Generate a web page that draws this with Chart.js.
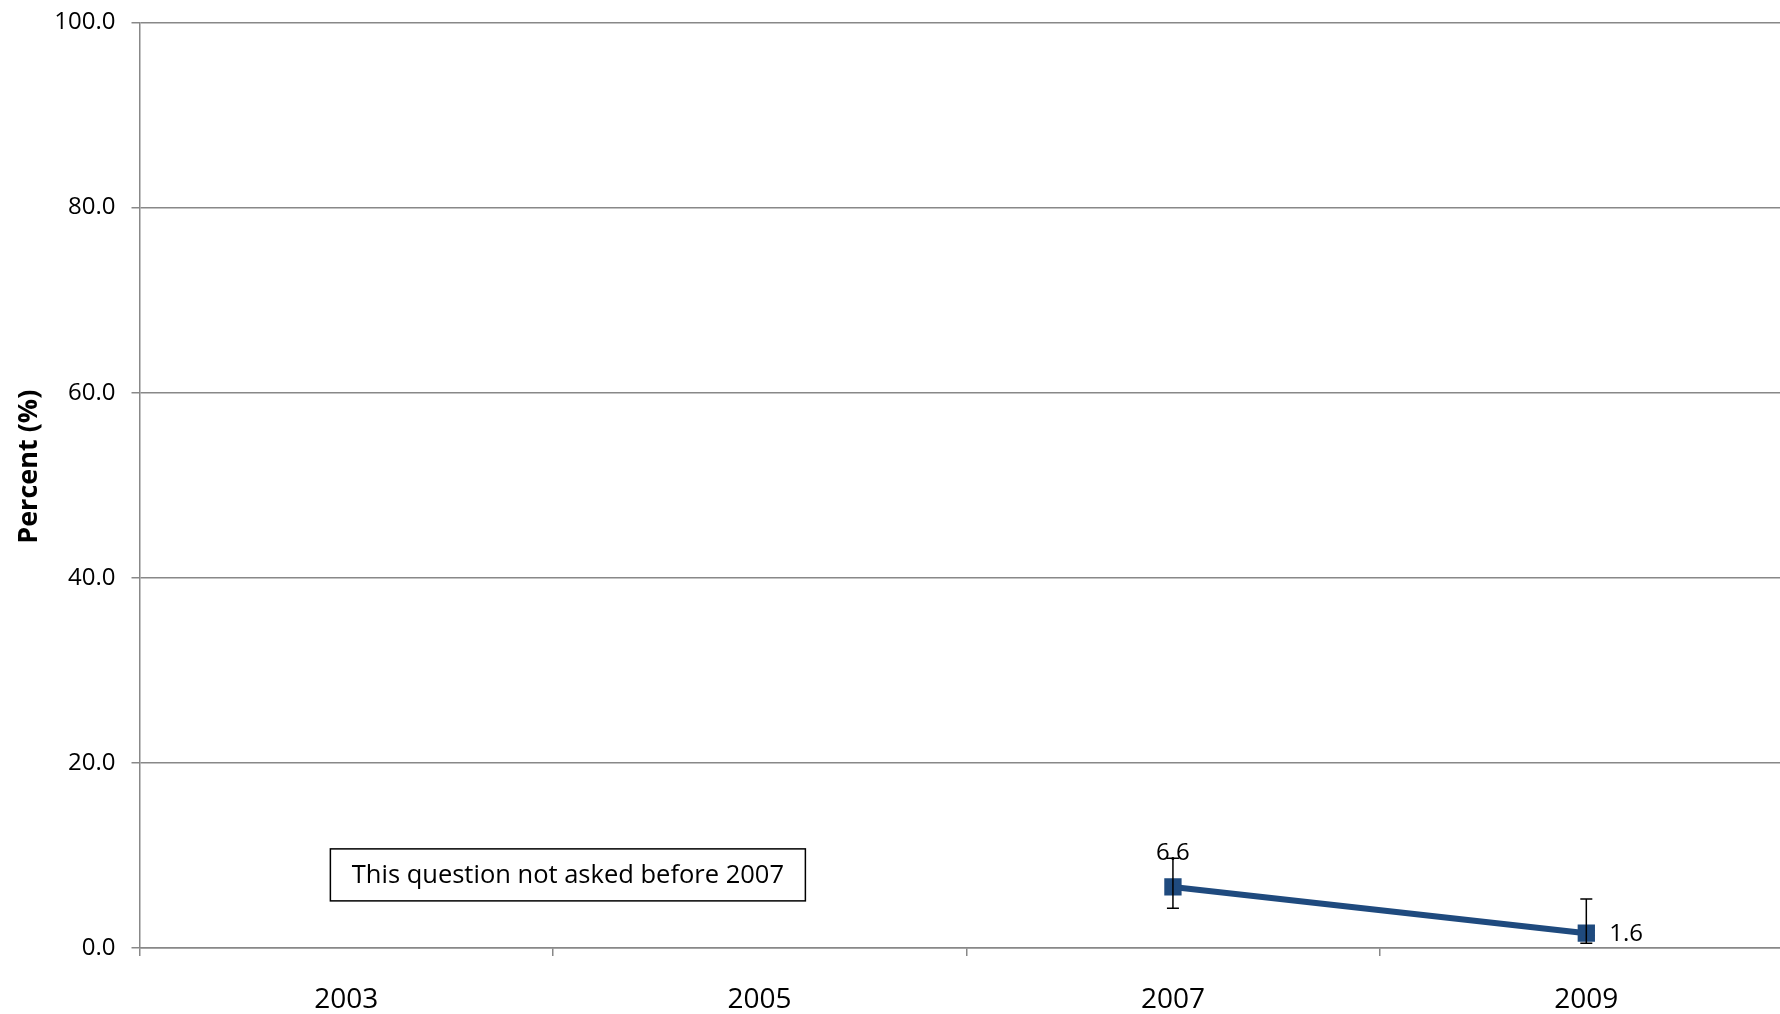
<!DOCTYPE html>
<html>
<head>
<meta charset="utf-8">
<script src="https://cdn.jsdelivr.net/npm/chart.js@4/dist/chart.umd.min.js"></script>
<style>
  html, body { margin: 0; padding: 0; overflow: hidden; background: #fff; }
  #wrap { width: 1801px; height: 1014px; }
</style>
</head>
<body>
<div id="wrap"><canvas id="trendChart"></canvas></div>
<script>
// chart data
const years = ['2003', '2005', '2007', '2009'];
const percent = [null, null, 6.6, 1.6];
const errLow = [null, null, 4.3, 0.5];
const errHigh = [null, null, 9.7, 5.3];
const pointLabels = [null, null, '6.6', '1.6'];
const yTicks = [0, 20, 40, 60, 80, 100];
const yTitle = 'Percent (%)';
const note = 'This question not asked before 2007';

const fontFam = "'Open Sans', 'Liberation Sans', sans-serif";

// error bars, value labels, axis title and the note box
const extras = {
  id: 'extras',
  afterDatasetsDraw(chart) {
    const ctx = chart.ctx;
    const x = chart.scales.x, y = chart.scales.y;
    ctx.save();
    ctx.strokeStyle = '#000';
    ctx.lineWidth = 1.5;
    for (let i = 0; i < years.length; i++) {
      if (errLow[i] == null) continue;
      const px = x.getPixelForValue(i);
      const top = y.getPixelForValue(errHigh[i]);
      const bot = y.getPixelForValue(errLow[i]);
      ctx.beginPath();
      ctx.moveTo(px, top); ctx.lineTo(px, bot);
      ctx.moveTo(px - 6, top); ctx.lineTo(px + 6, top);
      ctx.moveTo(px - 6, bot); ctx.lineTo(px + 6, bot);
      ctx.stroke();
    }
    ctx.fillStyle = '#000';
    ctx.font = '24px ' + fontFam;
    ctx.textBaseline = 'middle';
    for (let i = 0; i < years.length; i++) {
      if (!pointLabels[i]) continue;
      const px = x.getPixelForValue(i);
      const py = y.getPixelForValue(percent[i]);
      if (i === years.length - 1) {
        ctx.textAlign = 'left';
        ctx.fillText(pointLabels[i], px + 23, py + 1);
      } else {
        ctx.textAlign = 'center';
        ctx.fillText(pointLabels[i], px, py - 34);
      }
    }
    // rotated y axis title, sits a little above the middle
    ctx.save();
    ctx.translate(29, y.getPixelForValue(52));
    ctx.rotate(-Math.PI / 2);
    ctx.textAlign = 'center';
    ctx.font = 'bold 27px ' + fontFam;
    ctx.fillText(yTitle, 0, 0);
    ctx.restore();
    // note box between 2003 and 2005
    const bx = (x.getPixelForValue(0) + x.getPixelForValue(1)) / 2 + 15;
    const by = y.getPixelForValue(7.9);
    ctx.font = '25.5px ' + fontFam;
    const w = 475, h = 52;
    ctx.fillStyle = '#fff';
    ctx.fillRect(bx - w / 2, by - h / 2, w, h);
    ctx.strokeStyle = '#000';
    ctx.lineWidth = 1.5;
    ctx.strokeRect(bx - w / 2, by - h / 2, w, h);
    ctx.fillStyle = '#000';
    ctx.textAlign = 'center';
    ctx.fillText(note, bx, by + 1);
    ctx.restore();
  }
};

new Chart(document.getElementById('trendChart'), {
  type: 'line',
  data: {
    labels: years,
    datasets: [{
      label: 'Percent',
      data: percent,
      borderColor: '#1F4A7E',
      backgroundColor: '#1F4A7E',
      borderWidth: 6,
      pointStyle: 'rect',
      pointRadius: 8,
      pointHoverRadius: 8,
      spanGaps: false,
    }],
  },
  options: {
    responsive: true,
    maintainAspectRatio: false,
    animation: false,
    layout: {
      autoPadding: false,
      padding: { top: 22.5, right: 8, left: 0, bottom: 0 },
    },
    plugins: {
      legend: { display: false },
      tooltip: { enabled: false },
    },
    scales: {
      x: {
        offset: true,
        afterFit(s) { s.height = 66; },
        grid: {
          offset: true,
          drawOnChartArea: false,
          drawTicks: true,
          tickLength: 8,
          color: '#888',
          lineWidth: 1.5,
        },
        border: { color: '#888', width: 1.5 },
        ticks: {
          color: '#000',
          font: { family: fontFam, size: 28 },
          padding: 27,
        },
      },
      y: {
        min: 0,
        max: 100,
        afterBuildTicks(s) { s.ticks = yTicks.map(v => ({ value: v })); },
        afterFit(s) { s.width = 139.5; },
        grid: {
          color: '#888',
          lineWidth: 1.5,
          tickLength: 8,
        },
        border: { color: '#888', width: 1.5 },
        ticks: {
          color: '#000',
          // small lineHeight keeps the label overhang from pushing the plot down
          font: { family: fontFam, size: 24, lineHeight: 0.5 },
          padding: 16,
          callback: v => v.toFixed(1),
        },
      },
    },
  },
  plugins: [extras],
});
</script>
</body>
</html>
